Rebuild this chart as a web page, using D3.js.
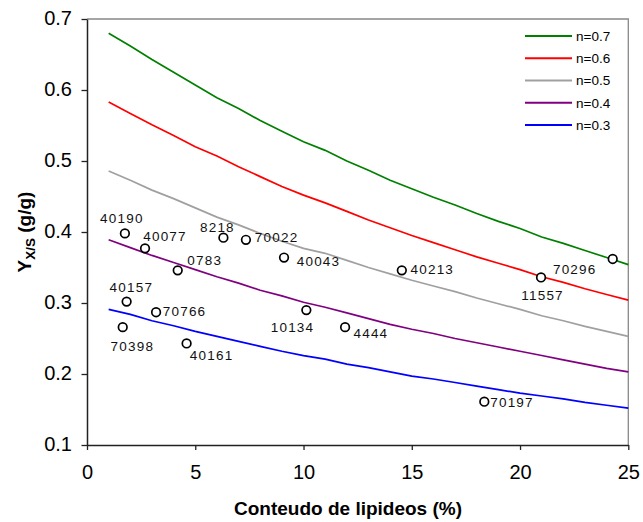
<!DOCTYPE html>
<html>
<head>
<meta charset="utf-8">
<script src="https://cdn.jsdelivr.net/npm/d3@7/dist/d3.min.js"></script>
<style>
  html, body { margin: 0; padding: 0; background: #fff; }
  svg { display: block; font-family: "Liberation Sans", Arial, sans-serif; }
</style>
</head>
<body>
<svg id="chart" width="643" height="522"></svg>
<script>
// ---------- data ----------
const xValues = [1,2,3,4,5,6,7,8,9,10,11,12,13,14,15,16,17,18,19,20,21,22,23,24,25];
const seriesNames = ["n=0.7", "n=0.6", "n=0.5", "n=0.4", "n=0.3"];
const n07 = [0.680,0.662,0.643,0.625,0.607,0.589,0.574,0.557,0.542,0.527,0.515,0.500,0.487,0.473,0.461,0.449,0.438,0.426,0.415,0.405,0.393,0.384,0.374,0.364,0.354];
const n06 = [0.583,0.567,0.551,0.536,0.520,0.507,0.492,0.478,0.464,0.452,0.441,0.429,0.417,0.406,0.395,0.385,0.375,0.365,0.356,0.347,0.337,0.329,0.320,0.312,0.304];
const n05 = [0.486,0.473,0.459,0.447,0.434,0.421,0.410,0.398,0.387,0.377,0.370,0.360,0.350,0.341,0.332,0.324,0.316,0.307,0.299,0.291,0.282,0.275,0.267,0.260,0.253];
const n04 = [0.389,0.378,0.367,0.357,0.347,0.337,0.328,0.318,0.310,0.301,0.294,0.286,0.278,0.270,0.263,0.257,0.250,0.244,0.238,0.232,0.226,0.220,0.214,0.208,0.203];
const n03 = [0.291,0.284,0.275,0.268,0.260,0.253,0.246,0.239,0.232,0.226,0.221,0.214,0.209,0.203,0.197,0.193,0.188,0.183,0.178,0.173,0.169,0.165,0.160,0.156,0.152];

const strainNames = ["40190","40077","0783","40157","70766","70398","40161","8218","70022","40043","40213","11557","70296","10134","4444","70197"];
const strainLipid = [1.75,2.68,4.19,1.83,3.19,1.65,4.60,6.30,7.34,9.10,14.54,20.97,24.28,10.13,11.92,18.35];
const strainYield = [0.398,0.377,0.346,0.302,0.287,0.266,0.243,0.392,0.389,0.364,0.346,0.336,0.362,0.290,0.266,0.161];

const xTicks = [0,5,10,15,20,25];
const yTicks = [0.1,0.2,0.3,0.4,0.5,0.6,0.7];

// ---------- layout / style ----------
const colors = ["#008000", "#ff0000", "#a0a0a0", "#800080", "#0000ff"];
// label offsets (px) relative to the marker: [dx to label centre, dy to baseline]
const labelOffsets = [[-3,-10.5],[20,-7.6],[27,-5.3],[4.7,-9.6],[28.5,4],[9.6,23.7],[25,16.3],[-6,-6],[30.7,2.3],[34.5,8.7],[30.5,4],[1.5,23],[-38,14.7],[-13.8,21.7],[25.8,11.3],[27.7,5]];

const svg = d3.select("#chart");
const mLeft = 87, mRight = 628.3, mTop = 19, mBottom = 445;
const x = d3.scaleLinear().domain([0,25]).range([mLeft, mRight]);
const y = d3.scaleLinear().domain([0.1,0.7]).range([mBottom, mTop]);

// border (top / right) in grey
svg.append("path")
  .attr("d", `M${mLeft},${mTop}H${mRight}V${mBottom}`)
  .attr("fill", "none").attr("stroke", "#888").attr("stroke-width", 1.3);

// axes
const yAxis = svg.append("g").attr("transform", `translate(${mLeft},0)`)
  .call(d3.axisLeft(y).tickValues(yTicks).tickFormat(d3.format(".1f")).tickSize(5.5).tickSizeOuter(0).tickPadding(9.5));
const xAxis = svg.append("g").attr("transform", `translate(0,${mBottom})`)
  .call(d3.axisBottom(x).tickValues(xTicks).tickFormat(d3.format("d")).tickSize(5).tickSizeOuter(0).tickPadding(15));
[yAxis, xAxis].forEach(g => {
  g.select(".domain").attr("stroke", "#222").attr("stroke-width", 1.5);
  g.selectAll(".tick line").attr("stroke", "#222").attr("stroke-width", 1.3);
  g.selectAll(".tick text").attr("fill", "#000").style("font-size", "20px")
   .style("font-family", '"Liberation Sans", Arial, sans-serif');
});
yAxis.selectAll(".tick text").attr("dy", "0.25em");

// lines
const allSeries = [n07, n06, n05, n04, n03];
const line = d3.line().x((d, i) => x(xValues[i])).y(d => y(d));
svg.append("g").selectAll("path").data(allSeries).join("path")
  .attr("d", d => line(d))
  .attr("fill", "none")
  .attr("stroke", (d, i) => colors[i])
  .attr("stroke-width", 1.7);

// points
const pts = strainNames.map((name, i) => ({name, lx: strainLipid[i], ly: strainYield[i], off: labelOffsets[i]}));
svg.append("g").selectAll("circle").data(pts).join("circle")
  .attr("cx", d => x(d.lx)).attr("cy", d => y(d.ly)).attr("r", 4.3)
  .attr("fill", "#fff").attr("stroke", "#000").attr("stroke-width", 1.7);
svg.append("g").selectAll("text").data(pts).join("text")
  .attr("x", d => x(d.lx) + d.off[0]).attr("y", d => y(d.ly) + d.off[1])
  .attr("text-anchor", "middle")
  .style("font-size", "13.5px").style("letter-spacing", "1.2px")
  .attr("fill", "#111")
  .text(d => d.name);

// legend
const leg = svg.append("g");
seriesNames.forEach((s, i) => {
  const yy = 36 + i * 22.25;
  leg.append("line").attr("x1", 525).attr("x2", 572).attr("y1", yy).attr("y2", yy)
    .attr("stroke", colors[i]).attr("stroke-width", 2);
  leg.append("text").attr("x", 576).attr("y", yy).attr("dy", "0.36em")
    .style("font-size", "13.5px").attr("fill", "#000").text(s);
});

// axis titles
svg.append("text").attr("x", 348).attr("y", 515).attr("text-anchor", "middle")
  .style("font-size", "19px").style("font-weight", "bold").text("Conteudo de lipideos (%)");

const yt = svg.append("text").attr("transform", "translate(31,232) rotate(-90)")
  .attr("text-anchor", "middle").style("font-size", "19px").style("font-weight", "bold");
yt.append("tspan").text("Y");
yt.append("tspan").attr("dy", 4).style("font-size", "13.5px").text("X/S");
yt.append("tspan").attr("dy", -4).text(" (g/g)");
</script>
</body>
</html>
